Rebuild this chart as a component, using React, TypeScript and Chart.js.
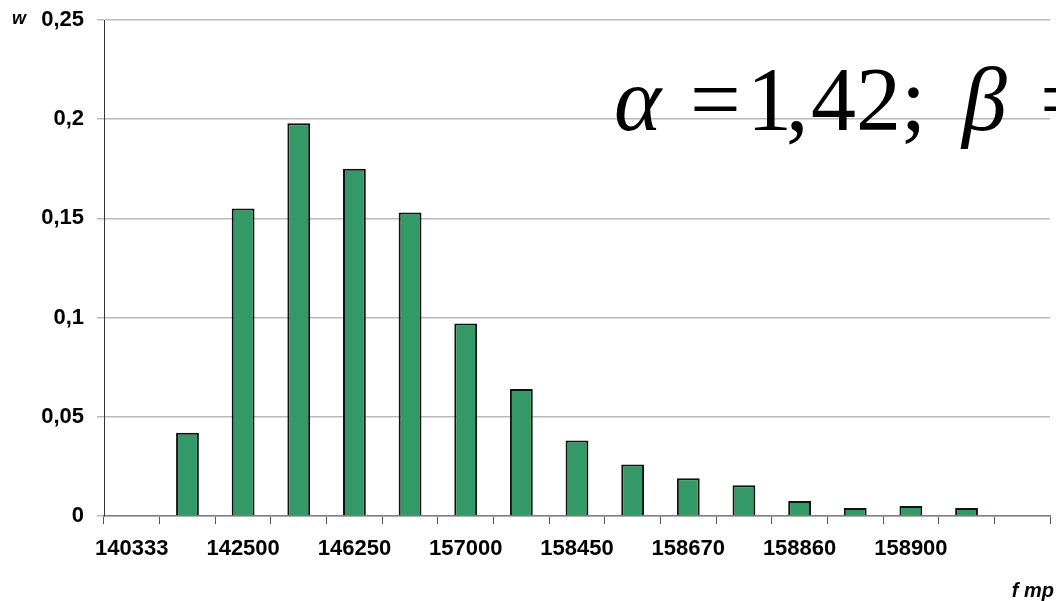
import React, { useEffect, useRef } from "react";
import { Chart, registerables } from "chart.js";

Chart.register(...registerables);

const categories = ["140333", "", "142500", "", "146250", "", "157000", "", "158450", "", "158670", "", "158860", "", "158900", "", ""];
const frequencies = [null, 0.042, 0.155, 0.198, 0.175, 0.153, 0.097, 0.064, 0.038, 0.026, 0.019, 0.0155, 0.0075, 0.004, 0.005, 0.004, null];
const yTicks = { min: 0, max: 0.25, step: 0.05 };
const yTitle = "w";
const xTitle = "f mp";

const annotationPlugin = {
  id: "annotations",
  afterDraw(chart: any) {
    const ctx = chart.ctx;
    ctx.save();
    ctx.fillStyle = "#000";
    ctx.textBaseline = "alphabetic";
    ctx.textAlign = "left";
    // axis titles
    ctx.font = "italic bold 18px 'Liberation Sans', Arial, sans-serif";
    ctx.fillText(yTitle, 12, 24);
    ctx.font = "italic bold 20px 'Liberation Sans', Arial, sans-serif";
    ctx.textAlign = "right";
    ctx.fillText(xTitle, 1054, 597);
    // formula
    ctx.textAlign = "left";
    const italic = "italic 90px 'Liberation Serif', 'Times New Roman', serif";
    const upright = "90px 'Liberation Serif', 'Times New Roman', serif";
    const base = 130;
    ctx.font = italic;
    ctx.fillText("\u03B1", 614, base);
    ctx.font = upright;
    ctx.fillText("=", 690, base);
    ctx.fillText("1", 747, base);
    ctx.fillText(",", 786, base);
    ctx.fillText("42;", 811, base);
    ctx.font = italic;
    ctx.fillText("\u03B2", 962, base);
    ctx.font = upright;
    ctx.fillText("=", 1040, base);
    ctx.restore();
  },
};

export default function App() {
  const ref = useRef<HTMLCanvasElement | null>(null);
  useEffect(() => {
    if (!ref.current) return;
    const chart = new Chart(ref.current, {
      type: "bar",
      data: {
        labels: categories,
        datasets: [
          {
            data: frequencies as any,
            backgroundColor: "#339966",
            borderColor: "#111111",
            borderWidth: 2,
            barPercentage: 0.41,
            categoryPercentage: 1,
          },
        ],
      },
      options: {
        responsive: false,
        animation: false,
        layout: { padding: { top: 20, right: 6, left: 0, bottom: 0 } },
        plugins: { legend: { display: false }, tooltip: { enabled: false } },
        scales: {
          x: {
            offset: true,
            grid: {
              offset: true,
              drawOnChartArea: false,
              drawTicks: true,
              tickLength: 8,
              color: "#555555",
              lineWidth: 1,
            },
            border: { display: true, color: "#808080", width: 1.5 },
            ticks: {
              autoSkip: false,
              maxRotation: 0,
              minRotation: 0,
              padding: 12,
              color: "#000",
              font: { family: "'Liberation Sans', Arial, sans-serif", size: 22, weight: "bold" },
            },
            afterFit: (s: any) => {
              s.height = 85;
              s.paddingLeft = 0;
              s.paddingRight = 0;
            },
          },
          y: {
            min: yTicks.min,
            max: yTicks.max,
            grid: {
              color: "#bababa",
              lineWidth: 1.5,
              tickLength: 7,
            },
            border: { display: true, color: "#333333", width: 1 },
            ticks: {
              stepSize: yTicks.step,
              padding: 13,
              color: "#000",
              font: { family: "'Liberation Sans', Arial, sans-serif", size: 22, weight: "bold" },
              callback: (v: any) => String(Number(Number(v).toFixed(2))).replace(".", ","),
            },
            afterFit: (s: any) => {
              s.width = 104;
              s.paddingTop = 0;
              s.paddingBottom = 0;
            },
          },
        },
      },
      plugins: [annotationPlugin],
    });
    return () => chart.destroy();
  }, []);
  return (
    <div style={{ position: "fixed", left: 0, top: 0, width: 1056, height: 601, background: "#fff" }}>
      <canvas ref={ref} width={1056} height={601} style={{ display: "block" }} />
    </div>
  );
}
